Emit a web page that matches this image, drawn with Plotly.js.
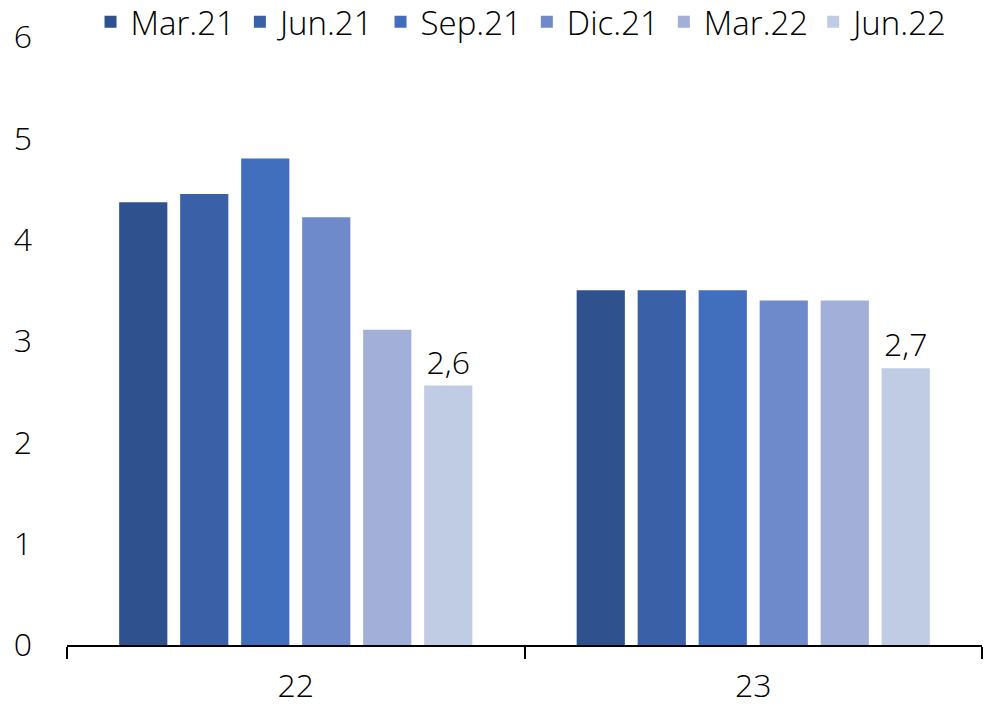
<!DOCTYPE html>
<html>
<head>
<meta charset="utf-8">
<script src="https://cdn.plot.ly/plotly-3.0.1.min.js"></script>
<style>html,body{margin:0;padding:0;background:#fff;}#chart{width:984px;height:710px;}</style>
</head>
<body>
<div id="chart"></div>
<script>
var categories = ["22", "23"];
var seriesNames = ["Mar.21", "Jun.21", "Sep.21", "Dic.21", "Mar.22", "Jun.22"];
var mar21 = [4.37, 3.5];
var jun21 = [4.45, 3.5];
var sep21 = [4.8, 3.5];
var dic21 = [4.22, 3.4];
var mar22 = [3.11, 3.4];
var jun22 = [2.56, 2.73];
var yTicks = [0, 1, 2, 3, 4, 5, 6];

var colors = ["#2F528F", "#3A60A8", "#416EBD", "#6F8ACB", "#A1AFD9", "#C0CBE4"];
var values = [mar21, jun21, sep21, dic21, mar22, jun22];
var FONT = "Open Sans";
var FS = 32;

var traces = values.map(function (v, i) {
  var t = {
    type: "bar",
    name: seriesNames[i],
    x: categories,
    y: v,
    marker: { color: colors[i] },
    hoverinfo: "none"
  };
  if (i === 5) {
    t.texttemplate = "%{y:.1f}";
    t.textposition = "outside";
    t.cliponaxis = false;
    t.textfont = { family: FONT, size: FS, color: "#000", weight: 300 };
  }
  return t;
});

var layout = {
  width: 984,
  height: 710,
  margin: { l: 67, r: 2, t: 37, b: 65, autoexpand: false },
  paper_bgcolor: "#fff",
  plot_bgcolor: "#fff",
  separators: ",.",
  barmode: "group",
  bargap: 0.2,
  bargroupgap: 0.21,
  font: { family: FONT, size: FS, color: "#000", weight: 300 },
  showlegend: true,
  legend: {
    orientation: "h",
    xref: "container", yref: "paper",
    x: 0.092, y: 1.025, xanchor: "left", yanchor: "middle",
    font: { family: FONT, size: 33, color: "#000", weight: 300 },
    itemwidth: 30,
    tracegroupgap: 0,
    traceorder: "normal"
  },
  xaxis: {
    type: "category",
    showline: true, linecolor: "#000", linewidth: 2,
    ticks: "outside", tickson: "boundaries", ticklen: 12, tickwidth: 2, tickcolor: "#000",
    showgrid: false, zeroline: false,
    ticklabelstandoff: 12,
    tickfont: { family: FONT, size: FS, color: "#000", weight: 300 }
  },
  yaxis: {
    range: [0, 6],
    tickvals: yTicks,
    showgrid: false, zeroline: false, showline: false,
    ticks: "",
    ticklabelstandoff: 34,
    tickfont: { family: FONT, size: FS, color: "#000", weight: 300 }
  }
};

Plotly.newPlot("chart", traces, layout, { displayModeBar: false, staticPlot: true });
</script>
</body>
</html>
